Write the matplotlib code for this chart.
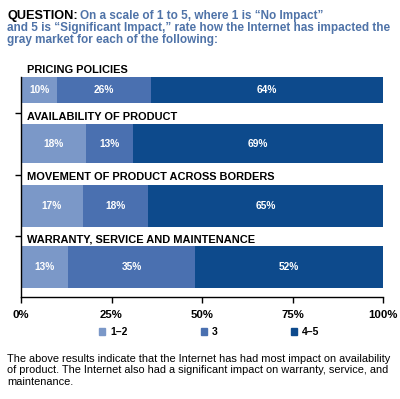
import matplotlib.pyplot as plt
import numpy as np

# Данные
categories = ['PRICING POLICIES', 'AVAILABILITY OF PRODUCT',
              'MOVEMENT OF PRODUCT ACROSS BORDERS', 'WARRANTY, SERVICE AND MAINTENANCE']
low = [10, 18, 17, 13]     # 1-2
mid = [26, 13, 18, 35]     # 3
high = [64, 69, 65, 52]    # 4-5
series_names = ['1–2', '3', '4–5']
ticks = [0, 25, 50, 75, 100]
tick_labels = ['0%', '25%', '50%', '75%', '100%']

colors = ['#7b98c8', '#4a70b0', '#0d4a8c']
title_blue = '#4f73a8'

plt.rcParams['font.family'] = ['Liberation Sans', 'DejaVu Sans']

W, H = 400, 399
fig = plt.figure(figsize=(W / 100, H / 100), dpi=100)

def fx(px):
    return px / W

def fy(py):
    return 1 - py / H

# Оси в пикселях изображения (строки сверху вниз)
top, bottom = 77, 297
ax = fig.add_axes([fx(21), fy(bottom), fx(383) - fx(21), (bottom - top) / H])
ax.set_xlim(0, 100)
ax.set_ylim(bottom, top)

centers = [90, 143.5, 206, 267]
heights = [26, 39, 42, 42]
label_y = [70, 117, 177, 239]

left = np.zeros(len(categories))
for vals, c in zip([low, mid, high], colors):
    vals = np.array(vals, dtype=float)
    ax.barh(centers, vals, left=left, height=heights, color=c, edgecolor='none', zorder=2)
    for yc, l, v in zip(centers, left, vals):
        ax.text(l + v / 2, yc, f'{int(v)}%', color='white', fontsize=7.3,
                fontweight='bold', ha='center', va='center', zorder=3)
    left += vals

for cat, yl in zip(categories, label_y):
    ax.text(1.6, yl, cat, fontsize=7.9, fontweight='bold', ha='left', va='center')

for s in ['top', 'right']:
    ax.spines[s].set_visible(False)
ax.spines['left'].set_linewidth(1.0)
ax.spines['bottom'].set_linewidth(1.0)
ax.set_yticks([113, 175, 236])
ax.set_yticklabels([])
ax.tick_params(axis='y', direction='out', length=4, width=1)
ax.set_xticks(ticks)
ax.set_xticklabels(tick_labels, fontsize=8.2, fontweight='bold')
ax.tick_params(axis='x', direction='out', length=4, width=1, pad=5)

# Заголовок
t = fig.text(fx(7), fy(19), 'QUESTION:', fontsize=9.2, fontweight='bold', color='black',
             ha='left', va='baseline')
fig.canvas.draw()
bb = t.get_window_extent()
fig.text(bb.x1 / W + fx(2), fy(19), 'On a scale of 1 to 5, where 1 is “No Impact”',
         fontsize=8.5, fontweight='bold', color=title_blue, ha='left', va='baseline')
fig.text(fx(7), fy(31), 'and 5 is “Significant Impact,” rate how the Internet has impacted the',
         fontsize=8.5, fontweight='bold', color=title_blue, ha='left', va='baseline')
fig.text(fx(7), fy(43), 'gray market for each of the following:',
         fontsize=8.5, fontweight='bold', color=title_blue, ha='left', va='baseline')

# Легенда
handles = [plt.Rectangle((0, 0), 1, 1, color=c) for c in colors]
leg = fig.legend(handles, series_names, ncol=3, loc='center left',
                 bbox_to_anchor=(fx(99), fy(332)), frameon=False,
                 prop={'size': 7.5, 'weight': 'bold'}, handlelength=0.6, handleheight=0.6,
                 handletextpad=0.5, columnspacing=7.0, borderaxespad=0, borderpad=0)

# Подпись
fig.text(fx(7), fy(354),
         'The above results indicate that the Internet has had most impact on availability\n'
         'of product. The Internet also had a significant impact on warranty, service, and\n'
         'maintenance.', fontsize=7.9, ha='left', va='top', linespacing=1.17)

fig.savefig('out.png', dpi=100)
